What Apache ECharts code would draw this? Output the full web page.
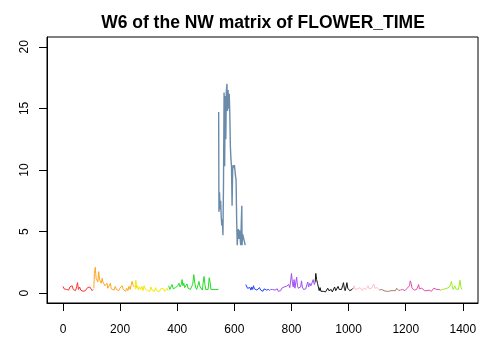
<!DOCTYPE html>
<html>
<head>
<meta charset="utf-8">
<script src="https://cdn.jsdelivr.net/npm/echarts@6/dist/echarts.min.js"></script>
<style>html,body{margin:0;padding:0;background:#fff;}#c{width:484px;height:338px;}</style>
</head>
<body>
<div id="c"></div>
<script>
var titleText = "W6 of the NW matrix of FLOWER_TIME";
var xTicks = [0, 200, 400, 600, 800, 1000, 1200, 1400];
var yTicks = [0, 5, 10, 15, 20];

var red = [[0,0.55],[4,0.35],[8,0.45],[12,0.3],[16,0.4],[20,0.25],[24,0.5],[28,0.35],[32,0.6],[36,0.3],[40,0.45],[44,0.2],[48,0.55],[51,0.85],[54,0.3],[58,0.5],[62,0.25],[66,0.35],[70,0.15],[74,0.3],[78,0.2],[82,0.25],[86,0.45],[90,0.3],[94,0.5],[98,0.35],[102,0.2],[106,0.3]];
var orange = [[108,0.4],[110,1.6],[113,2.1],[116,1.2],[119,1.3],[122,0.9],[125,1.75],[128,1.1],[131,1.1],[134,0.8],[137,1.2],[140,0.9],[143,0.9],[147,0.6],[151,0.7],[154,0.8],[157,0.4],[160,0.55],[163,0.3],[166,0.8],[169,0.35],[172,0.2],[175,0.4],[179,0.25],[183,0.55],[187,0.3],[191,0.15],[195,0.2],[199,0.4],[203,0.25],[207,0.6],[211,0.3],[215,0.35],[219,0.15],[223,0.4],[227,0.2],[231,0.55],[235,0.3],[239,0.7],[242,0.95],[246,0.6],[250,0.5]];
var yellow = [[253,0.3],[255,1.05],[258,0.4],[261,0.6],[264,0.25],[268,0.5],[272,0.3],[276,0.55],[280,0.2],[284,0.6],[288,0.35],[292,0.45],[296,0.2],[300,0.35],[304,0.15],[308,0.5],[312,0.25],[316,0.3],[320,0.15],[324,0.45],[328,0.2],[332,0.3],[336,0.1],[340,0.2],[344,0.4],[348,0.25],[352,0.35],[356,0.15],[360,0.25],[364,0.4],[368,0.2]];
var green = [[370,0.6],[374,0.3],[378,0.5],[382,0.7],[386,0.35],[390,0.2],[394,0.45],[398,0.3],[402,0.6],[406,0.8],[410,0.5],[414,0.7],[417,1.1],[420,0.6],[423,0.8],[426,0.45],[430,0.6],[434,0.75],[438,0.4],[442,0.5],[446,0.3],[450,0.4],[454,0.7],[458,1.5],[461,0.9],[464,0.5],[468,0.3],[472,0.6],[476,0.95],[480,0.5],[484,0.35],[488,0.25],[491,0.9],[494,1.35],[497,0.7],[500,0.3],[504,0.25],[508,0.3],[512,1.25],[515,0.9],[518,0.3],[522,0.25],[526,0.3],[530,0.25],[535,0.3],[540,0.25],[544,0.3]];
var steel = [[545,14.7],[546,6.6],[548,8.2],[550,6.8],[552,7.5],[554,6.2],[556,5.5],[558,6.0],[560,4.7],[562,9.0],[564,16.3],[566,10.3],[568,16.0],[570,12.5],[572,16.4],[574,17.0],[576,14.8],[578,16.5],[580,15.0],[582,16.2],[584,14.6],[586,11.9],[588,10.9],[590,10.3],[592,7.1],[594,10.0],[596,10.4],[598,10.2],[600,10.4],[602,10.0],[604,9.5],[606,9.2],[608,6.0],[610,3.9],[612,4.8],[614,5.2],[616,4.4],[618,5.1],[620,4.6],[622,3.9],[624,5.5],[626,7.1],[627,3.9],[629,4.8],[632,4.7],[635,4.2],[638,3.9]];
var blue = [[640,0.7],[643,0.55],[646,0.4],[649,0.5],[652,0.3],[655,0.45],[658,0.25],[661,0.5],[664,0.3],[667,0.6],[670,0.35],[673,0.3],[676,0.5],[679,0.25],[682,0.4],[685,0.2],[688,0.45],[692,0.25],[696,0.3],[700,0.15],[704,0.35],[708,0.2],[712,0.25],[716,0.15],[720,0.3],[724,0.2]];
var purple = [[726,0.3],[730,0.2],[734,0.3],[738,0.15],[742,0.25],[746,0.2],[750,0.35],[754,0.15],[758,0.3],[762,0.2],[766,0.4],[770,0.3],[774,0.5],[778,0.35],[782,0.55],[786,0.4],[790,0.7],[794,0.45],[797,1.0],[800,1.6],[803,0.9],[806,0.5],[809,1.1],[812,0.4],[815,0.5],[818,1.3],[821,0.6],[824,0.4],[828,0.3],[832,0.5],[835,1.0],[838,0.5],[842,0.3],[846,0.4],[850,0.35],[854,0.7],[857,0.9],[860,0.5],[864,0.8],[868,0.6],[872,0.7],[876,1.1],[880,0.7],[883,0.9]];
var black = [[883,0.9],[885,1.6],[888,1.1],[891,0.8],[894,0.5],[897,0.2],[900,0.45],[903,0.15],[907,0.3],[911,0.15],[915,0.2],[919,0.1],[923,0.25],[927,0.4],[931,0.2],[935,0.15],[939,0.3],[943,0.1],[947,0.25],[951,0.5],[955,0.2],[959,0.35],[963,0.55],[967,0.3],[971,0.4],[975,0.3],[979,0.6],[982,0.85],[985,0.4],[988,0.2],[991,0.5],[994,0.85],[997,0.4],[1000,0.3],[1004,0.2],[1008,0.15],[1012,0.3],[1016,0.4]];
var pink = [[1016,0.4],[1020,0.6],[1024,0.3],[1028,0.2],[1032,0.35],[1036,0.25],[1040,0.45],[1044,0.3],[1048,0.2],[1052,0.4],[1056,0.5],[1060,0.3],[1064,0.35],[1068,0.6],[1072,0.35],[1076,0.3],[1080,0.4],[1084,0.3],[1088,0.75],[1092,0.4],[1096,0.35],[1100,0.45],[1104,0.3],[1108,0.25]];
var brown = [[1108,0.25],[1112,0.4],[1116,0.3],[1120,0.25],[1124,0.2],[1128,0.25],[1132,0.15],[1136,0.2],[1140,0.15],[1144,0.25],[1148,0.2],[1152,0.15],[1156,0.2],[1160,0.3],[1164,0.2],[1168,0.4],[1172,0.3],[1176,0.2],[1180,0.25]];
var magenta = [[1181,0.25],[1185,0.2],[1189,0.3],[1193,0.25],[1197,0.2],[1201,0.35],[1205,0.4],[1209,0.3],[1213,0.6],[1216,1.0],[1219,0.8],[1222,0.4],[1226,0.3],[1230,0.25],[1234,0.2],[1238,0.3],[1242,0.5],[1245,0.7],[1248,0.35],[1252,0.25],[1256,0.4],[1259,0.55],[1262,0.3],[1266,0.2],[1270,0.25],[1274,0.2],[1278,0.15],[1282,0.25],[1286,0.2],[1290,0.15],[1294,0.3],[1298,0.4],[1302,0.55],[1305,0.4],[1309,0.3],[1313,0.25],[1317,0.3],[1321,0.25]];
var lightgreen = [[1321,0.25],[1325,0.2],[1329,0.3],[1333,0.2],[1337,0.35],[1341,0.25],[1345,0.4],[1349,0.3],[1353,0.5],[1357,0.7],[1360,0.95],[1363,0.5],[1366,0.3],[1369,0.45],[1372,0.6],[1375,0.35],[1378,0.3],[1381,0.4],[1384,0.3],[1387,0.6],[1390,1.05],[1393,0.5],[1396,0.3]];

var segments = [
  {data: red, color: '#FF3030', w: 1},
  {data: orange, color: '#FFA520', w: 1},
  {data: yellow, color: '#F5E800', w: 1},
  {data: green, color: '#22DD22', w: 1},
  {data: steel, color: 'rgba(70,110,150,0.8)', w: 1.4},
  {data: blue, color: '#2040FF', w: 1},
  {data: purple, color: '#A050F0', w: 1},
  {data: black, color: '#111111', w: 1},
  {data: pink, color: '#FFC0CB', w: 1},
  {data: brown, color: '#B07868', w: 1},
  {data: magenta, color: '#E050A8', w: 1},
  {data: lightgreen, color: '#9AEE22', w: 1}
];

var chart = echarts.init(document.getElementById('c'), null, {renderer: 'canvas'});
var font = 'Liberation Sans, Arial, Helvetica, sans-serif';
function plain(v) { return String(v); }
chart.setOption({
  animation: false,
  backgroundColor: '#fff',
  title: {
    text: titleText, left: 258, top: 9, textAlign: 'center',
    textStyle: {fontFamily: font, fontSize: 17.5, fontWeight: 'bold', color: '#000'}
  },
  grid: {left: 47, right: 6, top: 37, bottom: 35, show: true, borderColor: '#000', borderWidth: 1, backgroundColor: 'transparent'},
  xAxis: {
    type: 'value', min: -56, max: 1453,
    axisLine: {show: true, onZero: false, lineStyle: {color: '#000', width: 1}},
    splitLine: {show: false},
    axisTick: {show: true, inside: false, length: 8, lineStyle: {color: '#000'}, customValues: xTicks},
    axisLabel: {show: true, margin: 21, color: '#000', fontFamily: font, fontSize: 12, customValues: xTicks, formatter: plain}
  },
  yAxis: {
    type: 'value', min: -0.8, max: 20.8,
    axisLine: {show: true, onZero: false, lineStyle: {color: '#000', width: 1}},
    splitLine: {show: false},
    axisTick: {show: true, inside: false, length: 8, lineStyle: {color: '#000'}, customValues: yTicks},
    axisLabel: {show: true, margin: 16, rotate: 90, color: '#000', fontFamily: font, fontSize: 12, customValues: yTicks, formatter: plain}
  },
  series: segments.map(function (s) {
    return {type: 'line', data: s.data, symbol: 'none', showSymbol: false, silent: true,
      lineStyle: {color: s.color, width: s.w}, itemStyle: {color: s.color}};
  })
});
</script>
</body>
</html>
